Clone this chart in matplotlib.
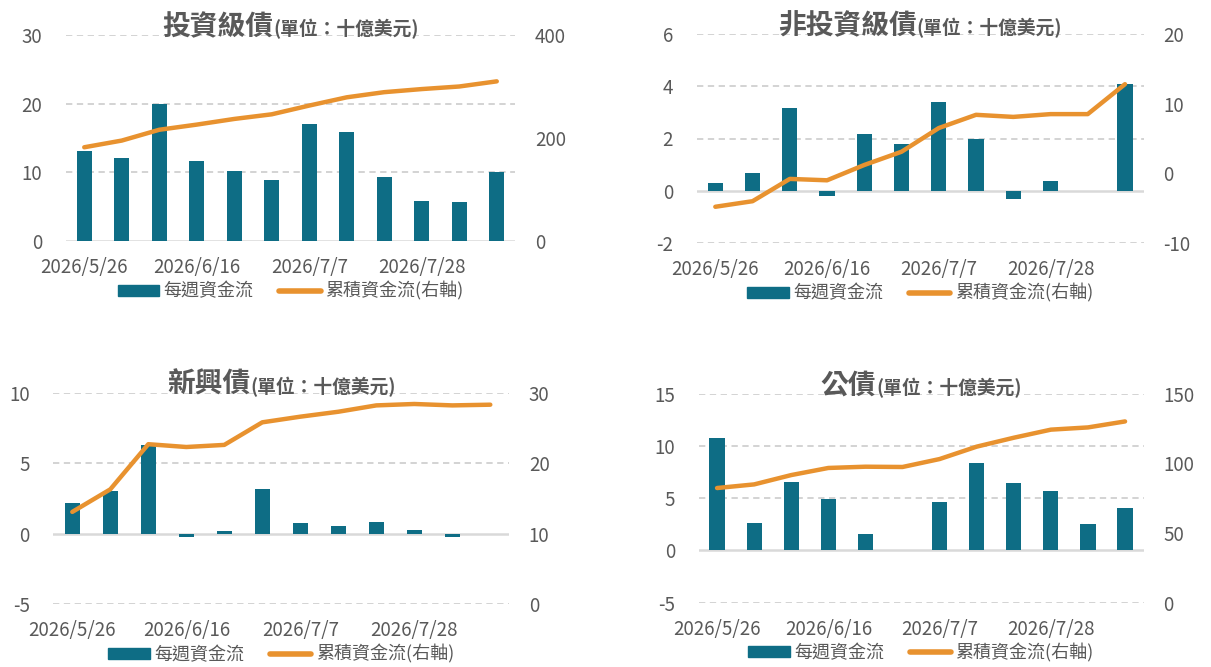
import matplotlib.pyplot as plt
import numpy as np
from matplotlib.offsetbox import TextArea, HPacker, AnchoredOffsetbox
from matplotlib.patches import Patch
from matplotlib.lines import Line2D

plt.rcParams['font.family'] = ['Noto Sans CJK TC', 'DejaVu Sans']

# --- data (billions USD, weekly) ---
dates = ['2026/5/26', '2026/6/2', '2026/6/9', '2026/6/16', '2026/6/23', '2026/6/30',
         '2026/7/7', '2026/7/14', '2026/7/21', '2026/7/28', '2026/8/4', '2026/8/11']
tick_idx = [0, 3, 6, 9]

ig_weekly = [13.1, 12.1, 20.0, 11.7, 10.2, 8.9, 17.1, 15.9, 9.3, 5.8, 5.7, 10.0]
ig_cum = [182, 195, 216, 226, 237, 246, 263, 279, 289, 295, 300, 310]

hy_weekly = [0.29, 0.68, 3.18, -0.2, 2.18, 1.79, 3.41, 1.99, -0.32, 0.37, 0.0, 4.1]
hy_cum = [-4.8, -4.0, -0.8, -1.0, 1.2, 3.1, 6.5, 8.4, 8.1, 8.5, 8.5, 12.8]

em_weekly = [2.17, 3.02, 6.27, -0.21, 0.19, 3.16, 0.75, 0.54, 0.83, 0.26, -0.21, 0.0]
em_cum = [13.1, 16.3, 22.7, 22.3, 22.6, 25.8, 26.6, 27.3, 28.2, 28.4, 28.2, 28.3]

gov_weekly = [10.77, 2.64, 6.56, 4.94, 1.59, 0.0, 4.65, 8.38, 6.47, 5.70, 2.55, 4.08]
gov_cum = [82.3, 84.9, 91.6, 96.7, 97.6, 97.4, 103.1, 112.0, 118.4, 124.2, 125.8, 130.1]

unit_label = '(單位：十億美元)'
bar_label = '每週資金流'
line_label = '累積資金流(右軸)'

# --- styles ---
bar_c = '#0E6D85'
line_c = '#E8922F'
grid_c = '#D9D9D9'
txt_c = '#595959'
W, H = 1211, 667

fig = plt.figure(figsize=(W / 100, H / 100), dpi=100)


def draw_panel(px, name, weekly, cum, ylim, yticks, y2lim, y2ticks):
    # px = (left, top, right, bottom) in pixels
    l, t, r, b = px
    ax = fig.add_axes([l / W, 1 - b / H, (r - l) / W, (b - t) / H])
    x = np.arange(len(weekly))
    ax.set_xlim(-0.5, len(weekly) - 0.5)
    ax.set_ylim(*ylim)
    ax.set_yticks(yticks)
    for v in yticks:
        if v == 0:
            ax.axhline(0, color=grid_c, lw=1.8, zorder=1)
        else:
            ax.axhline(v, color='#D0D0D0', lw=1.3, ls=(0, (3.5, 2.5)), zorder=0)
    ax.bar(x, weekly, width=0.41, color=bar_c, zorder=2)
    ax.set_xticks(tick_idx)
    ax.set_xticklabels([dates[i] for i in tick_idx])
    ax.tick_params(axis='x', length=0, pad=11.5, labelsize=13.5, labelcolor=txt_c)
    ax.tick_params(axis='y', length=0, pad=17, labelsize=13.5, labelcolor=txt_c)
    ax.set_yticklabels([f'{v:g}' for v in yticks])

    ax2 = ax.twinx()
    ax2.plot(x, cum, color=line_c, lw=3.2, solid_capstyle='round', solid_joinstyle='round')
    ax2.set_ylim(*y2lim)
    ax2.set_yticks(y2ticks)
    ax2.set_yticklabels([f'{v:g}' for v in y2ticks])
    ax2.tick_params(axis='y', length=0, pad=14, labelsize=13.5, labelcolor=txt_c)
    for a in (ax, ax2):
        for s in a.spines.values():
            s.set_visible(False)

    # title: bold name + smaller unit
    t1 = TextArea(name, textprops=dict(fontsize=20, fontweight='bold', color=txt_c))
    t2 = TextArea(unit_label, textprops=dict(fontsize=13.5, fontweight='bold', color=txt_c))
    box = HPacker(children=[t1, t2], align='baseline', pad=0, sep=0)
    anc = AnchoredOffsetbox(loc='lower center', child=box, pad=0, borderpad=0, frameon=False,
                            bbox_to_anchor=(0.5, 1.0 - 6 / (b - t)), bbox_transform=ax.transAxes)
    ax2.add_artist(anc)

    handles = [Patch(color=bar_c), Line2D([0], [0], color=line_c, lw=4, solid_capstyle='round')]
    ax2.legend(handles, [bar_label, line_label], loc='center', ncol=2, frameon=False,
               bbox_to_anchor=(0.5, -50 / (b - t)), fontsize=13, labelcolor=txt_c,
               handlelength=2.3, handleheight=0.55, handletextpad=0.25, columnspacing=1.4,
               borderpad=0)
    return ax, ax2


draw_panel((65.5, 35, 515.5, 241), '投資級債', ig_weekly, ig_cum,
           (0, 30), [0, 10, 20, 30], (0, 400), [0, 200, 400])
draw_panel((696.7, 34, 1143.6, 243), '非投資級債', hy_weekly, hy_cum,
           (-2, 6), [-2, 0, 2, 4, 6], (-10, 20), [-10, 0, 10, 20])
draw_panel((53.3, 392.7, 509.3, 604.3), '新興債', em_weekly, em_cum,
           (-5, 10), [-5, 0, 5, 10], (0, 30), [0, 10, 20, 30])
draw_panel((698.5, 393.7, 1143.6, 602.7), '公債', gov_weekly, gov_cum,
           (-5, 15), [-5, 0, 5, 10, 15], (0, 150), [0, 50, 100, 150])

fig.savefig('out.png', dpi=100)
